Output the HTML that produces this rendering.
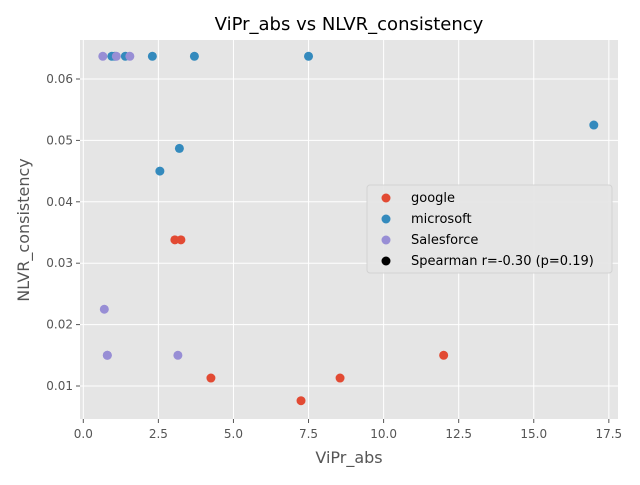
<!DOCTYPE html>
<html><head><meta charset="utf-8"><style>
body{margin:0;background:#fff;font-family:"Liberation Sans","DejaVu Sans",sans-serif}
</style></head><body>
<svg id="chart" width="640" height="480" xmlns="http://www.w3.org/2000/svg">
<rect x="80" y="40" width="538" height="379" fill="#E5E5E5"/>
<g id="grid"></g><g id="ticks"></g><g id="marks"></g>
<text x="349" y="30" text-anchor="middle" font-size="18" fill="#000" font-family="DejaVu Sans">ViPr_abs vs NLVR_consistency</text>
<text x="349" y="463" text-anchor="middle" font-size="16" fill="#555" font-family="DejaVu Sans">ViPr_abs</text>
<text transform="translate(29,230) rotate(-90)" text-anchor="middle" font-size="16" fill="#555" font-family="DejaVu Sans">NLVR_consistency</text>
<g font-family="DejaVu Sans" font-size="13">
<rect x="367" y="185" width="245" height="88" rx="3" fill="#E5E5E5" stroke="#d0d0d0" opacity="0.9"/>
<circle cx="386" cy="198" r="4.5" fill="#E24A33"/>
<text x="411" y="202" fill="#000">google</text>
<circle cx="386" cy="219" r="4.5" fill="#348ABD"/>
<text x="411" y="223" fill="#000">microsoft</text>
<circle cx="386" cy="240" r="4.5" fill="#988ED5"/>
<text x="411" y="244" fill="#000">Salesforce</text>
<circle cx="386" cy="261" r="4.5" fill="#000"/>
<text x="411" y="265" fill="#000">Spearman r=-0.30 (p=0.19)</text>
</g>
</svg>
<script>
const xTicks=[0,2.5,5,7.5,10,12.5,15,17.5];
const xTickLabels=["0.0","2.5","5.0","7.5","10.0","12.5","15.0","17.5"];
const yTicks=[0.01,0.02,0.03,0.04,0.05,0.06];
const yTickLabels=["0.01","0.02","0.03","0.04","0.05","0.06"];
const googleX=[3.05,3.25,4.25,7.25,8.55,12.0];
const googleY=[0.0338,0.0338,0.0113,0.0076,0.0113,0.015];
const microsoftX=[0.95,1.05,1.4,2.3,3.7,7.5,17.0,3.2,2.55];
const microsoftY=[0.0637,0.0637,0.0637,0.0637,0.0637,0.0637,0.0525,0.0487,0.045];
const salesforceX=[0.65,1.1,1.55,0.7,0.8,0.8,3.15];
const salesforceY=[0.0637,0.0637,0.0637,0.0225,0.015,0.015,0.015];
const NS="http://www.w3.org/2000/svg";
const sx=v=>83.3+v*30.03;
const sy=v=>386-(v-0.01)*6140;
function mk(tag,attrs,parent){const e=document.createElementNS(NS,tag);for(const k in attrs)e.setAttribute(k,attrs[k]);document.getElementById(parent).appendChild(e);return e;}
xTicks.forEach((t,i)=>{
 const g=mk('line',{x1:sx(t),x2:sx(t),y1:40,y2:419,stroke:'#fff','stroke-width':1},'grid');
 
 
 const tk=mk('line',{x1:sx(t),x2:sx(t),y1:419,y2:423,stroke:'#555'},'ticks');
 
 
 const tx=mk('text',{x:sx(t),y:438,'text-anchor':'middle','font-size':12,fill:'#555','font-family':'DejaVu Sans'},'ticks');
 tx.textContent=xTickLabels[i];
 
 
});
yTicks.forEach((t,i)=>{
 const g=mk('line',{x1:80,x2:618,y1:sy(t),y2:sy(t),stroke:'#fff','stroke-width':1},'grid');
 
 
 const tk=mk('line',{x1:76,x2:80,y1:sy(t),y2:sy(t),stroke:'#555'},'ticks');
 
 
 const tx=mk('text',{x:73,y:sy(t)+4,'text-anchor':'end','font-size':12,fill:'#555','font-family':'DejaVu Sans'},'ticks');
 tx.textContent=yTickLabels[i];
 
 
});
function series(xs,ys,color,name){
 xs.forEach((x,i)=>{
  const c=mk('circle',{cx:sx(x),cy:sy(ys[i]),r:4.5,fill:color},'marks');
  
  
 });
}
series(googleX,googleY,'#E24A33','google');
series(microsoftX,microsoftY,'#348ABD','microsoft');
series(salesforceX,salesforceY,'#988ED5','salesforce');
</script>
</body></html>
